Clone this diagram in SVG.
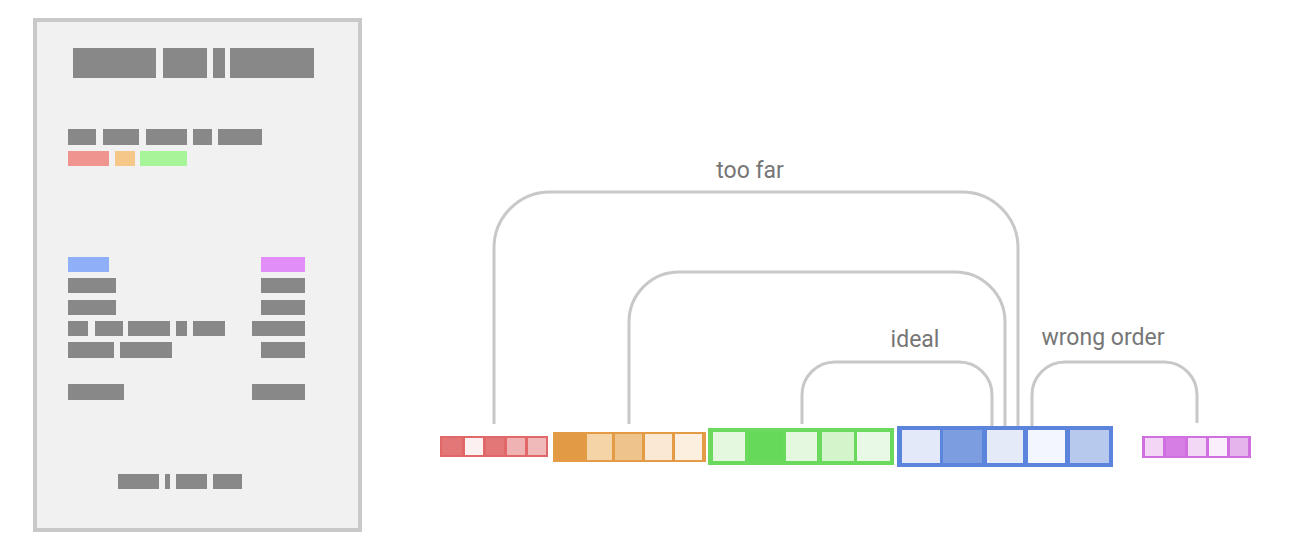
<svg xmlns="http://www.w3.org/2000/svg" width="1300" height="552" viewBox="0 0 1300 552">
<style>
.g{fill:#888888}
.lbl{font-family:Roboto,"Liberation Sans",sans-serif;font-size:23px;fill:#767676}
.c{fill:none;stroke:#c8c8c8;stroke-width:3}
</style>
<rect width="1300" height="552" fill="#ffffff"/>
<g id="page">
<rect x="35" y="20" width="325" height="510" fill="#f1f1f1" stroke="#c9c9c9" stroke-width="4"/>
<rect class="g" x="73" y="48" width="83" height="30"/>
<rect class="g" x="163" y="48" width="44" height="30"/>
<rect class="g" x="213" y="48" width="12" height="30"/>
<rect class="g" x="230" y="48" width="84" height="30"/>
<rect class="g" x="68" y="129" width="28" height="16"/>
<rect class="g" x="103" y="129" width="36" height="16"/>
<rect class="g" x="146" y="129" width="41" height="16"/>
<rect class="g" x="193" y="129" width="19" height="16"/>
<rect class="g" x="218" y="129" width="44" height="16"/>
<rect x="68" y="151" width="41" height="15" fill="#f09490"/>
<rect x="115" y="151" width="20" height="15" fill="#f5c88a"/>
<rect x="140" y="151" width="47" height="15" fill="#a6f598"/>
<rect x="68" y="257" width="41" height="15" fill="#8fb0f8"/>
<rect x="261" y="257" width="44" height="15" fill="#e28ef8"/>
<rect class="g" x="68" y="278" width="48" height="15"/>
<rect class="g" x="68" y="300" width="48" height="15"/>
<rect class="g" x="68" y="321" width="20" height="15"/>
<rect class="g" x="95" y="321" width="28" height="15"/>
<rect class="g" x="128" y="321" width="42" height="15"/>
<rect class="g" x="176" y="321" width="11" height="15"/>
<rect class="g" x="193" y="321" width="32" height="15"/>
<rect class="g" x="68" y="342" width="46" height="16"/>
<rect class="g" x="120" y="342" width="52" height="16"/>
<rect class="g" x="68" y="384" width="56" height="16"/>
<rect class="g" x="261" y="278" width="44" height="15"/>
<rect class="g" x="261" y="300" width="44" height="15"/>
<rect class="g" x="252" y="321" width="53" height="15"/>
<rect class="g" x="261" y="342" width="44" height="16"/>
<rect class="g" x="252" y="384" width="53" height="16"/>
<rect class="g" x="118" y="474" width="41" height="15"/>
<rect class="g" x="165" y="474" width="5" height="15"/>
<rect class="g" x="176" y="474" width="31" height="15"/>
<rect class="g" x="213" y="474" width="29" height="15"/>
</g>
<g id="connectors">
<path class="c" d="M494 424 V248 A56 56 0 0 1 550 192 H962 A56 56 0 0 1 1018 248 V426"/>
<path class="c" d="M629 424 V322 A50 50 0 0 1 679 272 H955 A50 50 0 0 1 1005 322 V426"/>
<path class="c" d="M802 424 V395 A33 33 0 0 1 835 362 H959 A33 33 0 0 1 992 395 V426"/>
<path class="c" d="M1032 426 V395 A33 33 0 0 1 1065 362 H1164 A33 33 0 0 1 1197 395 V423"/>
</g>
<g id="labels">
<text class="lbl" x="750" y="178" text-anchor="middle">too far</text>
<text class="lbl" x="915" y="347" text-anchor="middle">ideal</text>
<text class="lbl" x="1103" y="345" text-anchor="middle">wrong order</text>
</g>
<g id="seg-red">
<rect x="440" y="436" width="108" height="21" fill="#e06868"/>
<rect x="442" y="438" width="20" height="17" fill="#e37676"/>
<rect x="465" y="438" width="18" height="17" fill="#fcf0f0"/>
<rect x="486" y="438" width="18" height="17" fill="#e37676"/>
<rect x="507" y="438" width="18" height="17" fill="#efb3b3"/>
<rect x="528" y="438" width="18" height="17" fill="#f0baba"/>
</g>
<g id="seg-orange">
<rect x="553" y="432" width="153" height="30" fill="#e49b45"/>
<rect x="555" y="434" width="29" height="26" fill="#e39a45"/>
<rect x="587" y="434" width="25" height="26" fill="#f5d4a8"/>
<rect x="615" y="434" width="27" height="26" fill="#efc48c"/>
<rect x="645" y="434" width="27" height="26" fill="#fbe8d2"/>
<rect x="675" y="434" width="27" height="26" fill="#fcefdf"/>
</g>
<g id="seg-green">
<rect x="708" y="428" width="186" height="37" fill="#6ad95e"/>
<rect x="713" y="432" width="32" height="29" fill="#e3f8df"/>
<rect x="748" y="432" width="35" height="29" fill="#66d85a"/>
<rect x="786" y="432" width="31" height="29" fill="#e3f8df"/>
<rect x="822" y="432" width="32" height="29" fill="#d2f5cb"/>
<rect x="857" y="432" width="33" height="29" fill="#e8fae5"/>
</g>
<g id="seg-blue">
<rect x="897" y="426" width="216" height="41" fill="#5b84dc"/>
<rect x="902" y="430" width="38" height="33" fill="#e3e9f8"/>
<rect x="943" y="430" width="39" height="33" fill="#7c9de0"/>
<rect x="987" y="430" width="36" height="33" fill="#e4eaf8"/>
<rect x="1028" y="430" width="37" height="33" fill="#f3f6fc"/>
<rect x="1070" y="430" width="39" height="33" fill="#b8c9ee"/>
</g>
<g id="seg-purple">
<rect x="1142" y="436" width="109" height="22" fill="#cf6fe0"/>
<rect x="1145" y="438" width="18" height="18" fill="#f3d5f6"/>
<rect x="1166" y="438" width="19" height="18" fill="#d77ee4"/>
<rect x="1188" y="438" width="18" height="18" fill="#f3d8f6"/>
<rect x="1209" y="438" width="18" height="18" fill="#fbeefc"/>
<rect x="1230" y="438" width="18" height="18" fill="#e5b4ec"/>
</g>
</svg>
